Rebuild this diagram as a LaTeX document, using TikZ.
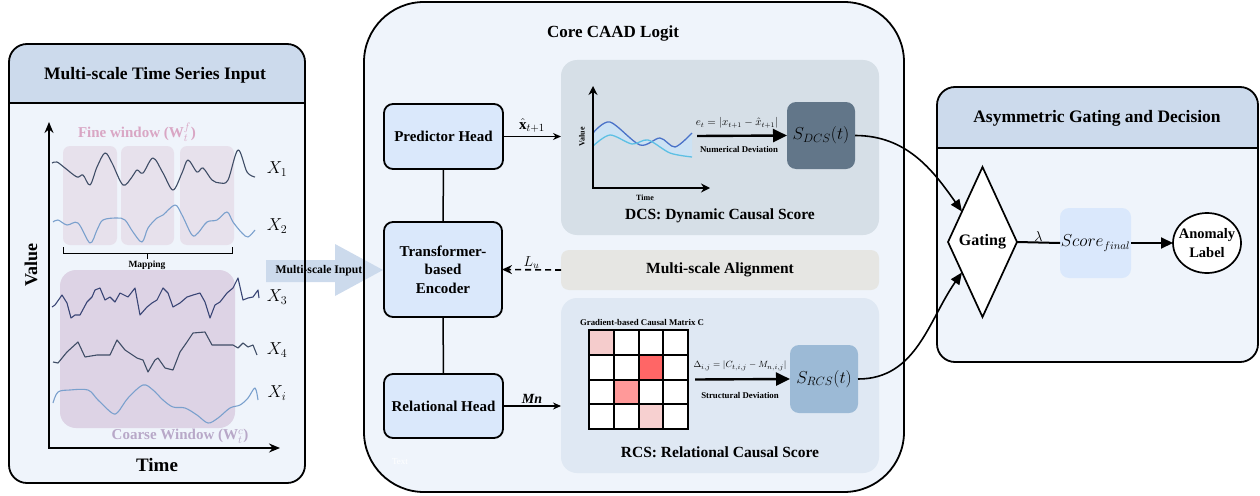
\documentclass[tikz,border=0pt]{standalone}
\usepackage{fontspec}
\setmainfont{Liberation Serif}
\usepackage{amsmath}
\usetikzlibrary{shapes.geometric,arrows.meta,calc}
\definecolor{hdrblue}{HTML}{CCDAEC}
\definecolor{panelbg}{HTML}{EFF4FB}
\definecolor{boxblue}{HTML}{DAE8FB}
\definecolor{dcsbg}{HTML}{D6DFE7}
\definecolor{rcsbg}{HTML}{DFE8F3}
\definecolor{alignbg}{HTML}{E6E6E3}
\definecolor{sdcscol}{HTML}{627689}
\definecolor{srcscol}{HTML}{9CBAD6}
\definecolor{scorecol}{HTML}{DAE8FC}
\definecolor{finecol}{HTML}{E7E1EC}
\definecolor{coarsecol}{HTML}{DDD3E5}
\definecolor{finetxt}{HTML}{D9A6C4}
\definecolor{coarsetxt}{HTML}{B8A8C8}
\definecolor{serdark}{HTML}{3F4D66}
\definecolor{serlight}{HTML}{7AA0CD}
\definecolor{curvedark}{HTML}{4A72C8}
\definecolor{curvelight}{HTML}{5DC0E4}
\definecolor{bandfill}{HTML}{CCE2F4}
\definecolor{cellA}{HTML}{F5CCCC}
\definecolor{cellB}{HTML}{FF6666}
\definecolor{cellC}{HTML}{FF9999}
\definecolor{cellD}{HTML}{F7D0D0}
\newcommand\fsz[2]{\fontsize{#1}{#2}\selectfont}
\begin{document}
\begin{tikzpicture}[x=1pt,y=-1pt,
  every node/.style={inner sep=0pt, outer sep=0pt},
  headbox/.style={draw, line width=1.8pt, fill=boxblue, rounded corners=9pt, align=center, font=\fsz{15}{18.5}\bfseries},
  subpanel/.style={rounded corners=16pt, minimum width=318pt},
  sbox/.style={rounded corners=9pt, font=\fsz{16.5}{19}},
  thinarrow/.style={line width=1.1pt, -{Stealth[length=8pt,width=7pt]}},
  bigarrow/.style={line width=2.4pt, -{Triangle[length=14pt,width=13pt]}},
  curvearrow/.style={line width=1.6pt, -{Triangle[length=12pt,width=10pt]}},
  series/.style={line width=1.1pt, line join=round},
  bordr/.style={line width=1.8pt},
  axisarrow/.style={line width=1.6pt, -{Stealth[length=11pt,width=9pt]}},
  miniaxis/.style={line width=1.8pt, -{Stealth[length=9pt,width=9pt]}},
  small/.style={font=\fsz{8.8}{10}\bfseries}
]
\useasboundingbox (0,0) rectangle (1260,495);

% ---------- panel fills ----------
\fill[panelbg, rounded corners=18pt] (9,44) rectangle (305,483);
\begin{scope}
\clip[rounded corners=18pt] (9,44) rectangle (305,483);
\fill[hdrblue] (9,44) rectangle (305,103);
\end{scope}
\fill[panelbg, rounded corners=60pt] (364,2) rectangle (904,492);
\fill[panelbg, rounded corners=18pt] (937,87) rectangle (1258,362);
\begin{scope}
\clip[rounded corners=18pt] (937,87) rectangle (1258,362);
\fill[hdrblue] (937,87) rectangle (1258,148);
\end{scope}

% ---------- block arrow ----------
\fill[hdrblue] (266,260) -- (335,260) -- (335,244) -- (383,270) -- (335,296) -- (335,282) -- (266,282) -- cycle;
\node[font=\fsz{11.7}{14}\bfseries] (msin) at (319,271) {Multi-scale Input};

% ---------- left panel content ----------
\fill[finecol, rounded corners=7pt] (63,146) rectangle (117,245);
\fill[finecol, rounded corners=7pt] (121,146) rectangle (174,245);
\fill[finecol, rounded corners=7pt] (180,146) rectangle (234,245);
\fill[coarsecol, rounded corners=16pt] (60,270) rectangle (235,428);

\draw[series, serdark] plot[smooth, tension=0.55] coordinates {(52,163) (57,162) (65,168) (77,177) (83,175) (90,185) (97,167) (105,153) (112,163) (123,185) (132,177) (137,170) (143,173) (153,158) (163,173) (173,190) (182,173) (188,160) (197,172) (203,168) (212,180) (220,183) (228,180) (238,150) (247,172) (255,177)};
\draw[series, serlight] plot[smooth, tension=0.55] coordinates {(53,222) (58,220) (67,225) (78,223) (90,243) (97,230) (103,220) (117,218) (125,220) (133,232) (142,242) (148,228) (157,218) (163,215) (175,205) (182,215) (192,235) (198,233) (207,222) (217,220) (227,212) (233,222) (242,233) (248,237) (255,230)};
\draw[series, serdark!90!blue] plot coordinates {(52,307) (55,305) (62,295) (67,303) (71,318) (75,315) (80,315) (87,302) (92,297) (95,290) (100,288) (105,300) (110,297) (115,302) (120,293) (128,297) (135,288) (140,315) (147,307) (152,303) (157,300) (163,288) (168,293) (173,307) (180,303) (187,297) (193,295) (200,293) (205,302) (210,318) (215,305) (220,302) (227,293) (233,288) (238,278) (243,300) (248,298) (253,297) (258,290) (259,298)};
\draw[series, serdark] plot coordinates {(53,362) (58,363) (67,352) (78,342) (85,357) (97,355) (110,355) (117,340) (125,350) (137,358) (143,360) (148,372) (155,360) (158,358) (165,368) (173,370) (180,352) (187,342) (193,333) (205,332) (212,345) (227,345) (233,345) (238,348) (243,343) (248,347) (253,345) (257,355)};
\draw[series, serlight] plot[smooth, tension=0.55] coordinates {(53,403) (58,392) (70,390) (88,390) (98,400) (112,413) (118,412) (128,398) (143,385) (153,390) (163,400) (173,407) (185,408) (197,415) (208,423) (218,418) (230,408) (240,405) (248,398) (255,388) (258,400)};

\coordinate (origin) at (49,448);
\coordinate (ytop) at (49,122);
\coordinate (xend) at (280,448);
\draw[axisarrow] (origin) -- (ytop);
\draw[axisarrow] ([xshift=-1pt]origin) -- (xend);

\draw[line width=1pt] (63,247) -- (63,253) -- (232,253) -- (232,247);
\draw[line width=1pt] (147,253) -- (147,259);
\node[font=\fsz{9.5}{11}\bfseries] (maplbl) at (147,265) {Mapping};

\node[text=finetxt, font=\fsz{15}{17}\bfseries] (finelbl) at (137,132) {Fine window ($\mathbf{W}_t^f$)};
\node[text=coarsetxt, font=\fsz{15}{17}\bfseries] (coarselbl) at (180,436) {Coarse Window ($\mathbf{W}_t^c$)};
\node[font=\fsz{17}{19}] (x1) at (277,169) {$X_1$};
\node[font=\fsz{17}{19}] (x2) at (277,226) {$X_2$};
\node[font=\fsz{17}{19}] (x3) at (277,297) {$X_3$};
\node[font=\fsz{17}{19}] (x4) at (277,350) {$X_4$};
\node[font=\fsz{17}{19}] (xi) at (277,393) {$X_i$};
\node[rotate=90, font=\fsz{18}{20}\bfseries] (vallbl) at (31,265) {Value};
\node[font=\fsz{19}{21}\bfseries] (timelbl) at (157,465) {Time};
\node[font=\fsz{17.5}{20}\bfseries] (lefttitle) at (155,75) {Multi-scale Time Series Input};

% ---------- core panel ----------
\node[font=\fsz{17}{20}\bfseries] (coretitle) at (613,33) {Core CAAD Logit};

\node[headbox, minimum width=119pt, minimum height=65pt] (pred) at (443.5,136.5) {Predictor Head};
\node[headbox, minimum width=118pt, minimum height=95pt] (enc) at (443,269.5) {Transformer-\\based\\Encoder};
\node[headbox, minimum width=119pt, minimum height=64pt] (rel) at (443.5,406) {Relational Head};
\draw[line width=1.5pt] (pred.south) -- (enc.north);
\draw[line width=1.5pt] (enc.south) -- (rel.north);

\node[subpanel, fill=dcsbg, minimum height=175pt] (dcs) at (720,147.5) {};
\node[subpanel, rounded corners=8pt, fill=alignbg, minimum height=40pt, font=\fsz{15.5}{18}\bfseries] (align) at (720,270) {Multi-scale Alignment};
\node[subpanel, fill=rcsbg, minimum height=175pt] (rcs) at (720,385.5) {};

% DCS content
\coordinate (morigin) at (593,188);
\coordinate (mytop) at (593,86);
\coordinate (mxend) at (710,188);
\fill[bandfill] plot[smooth] coordinates {(593,133) (610,122) (640,145) (660,138) (675,147) (692,133)} -- plot[smooth] coordinates {(692,157) (670,153) (648,140) (632,144) (610,135) (593,146)} -- cycle;
\draw[curvedark, line width=1.3pt] plot[smooth] coordinates {(593,133) (610,122) (640,145) (660,138) (675,147) (692,133)};
\draw[curvelight, line width=1.3pt] plot[smooth] coordinates {(593,146) (610,135) (632,144) (648,140) (670,153) (692,157)};
\draw[miniaxis] (morigin) -- (mytop);
\draw[miniaxis] ([xshift=-0.9pt]morigin) -- (mxend);
\node[rotate=90, font=\fsz{8}{9}\bfseries] (mval) at (582,137) {Value};
\node[font=\fsz{8}{9}\bfseries] (mtime) at (645,198) {Time};

\node[sbox, fill=sdcscol, minimum width=68pt, minimum height=67pt] (sdcs) at (821,135.5) {$S_{DCS}(t)$};
\coordinate (dcsout) at (697,136);
\draw[bigarrow] (dcsout) -- (sdcs.west);
\node[font=\fsz{10.5}{12}] (etlbl) at (737,123) {$e_t = |x_{t+1} - \hat{x}_{t+1}|$};
\node[small] (numdev) at (739,149) {Numerical Deviation};
\node[font=\fsz{15.5}{18}\bfseries] (dcstitle) at (720,216) {DCS: Dynamic Causal Score};

% RCS content
\node[small] (gradlbl) at (642,322) {Gradient-based Causal Matrix C};
\node[minimum width=99pt, minimum height=99pt, fill=white] (mat) at (638.5,379.5) {};
\begin{scope}[shift={(589,330)}]
\fill[cellA] (0,0) rectangle (24.75,24.75);
\fill[cellB] (49.5,24.75) rectangle (74.25,49.5);
\fill[cellC] (24.75,49.5) rectangle (49.5,74.25);
\fill[cellD] (49.5,74.25) rectangle (74.25,99);
\foreach \i in {0,1,2,3,4}{
  \draw[line width=2pt] (\i*24.75,-1) -- (\i*24.75,100);
  \draw[line width=2pt] (-1,\i*24.75) -- (100,\i*24.75);
}
\end{scope}
\node[sbox, fill=srcscol, minimum width=68pt, minimum height=68pt] (srcs) at (824,379) {$S_{RCS}(t)$};
\draw[bigarrow] ([xshift=7pt]mat.east) -- (srcs.west);
\node[font=\fsz{9.5}{11}] (dlbl) at (740,366) {$\Delta_{i,j} = |C_{t,i,j} - M_{n,i,j}|$};
\node[small] (strdev) at (740,395) {Structural Deviation};
\node[font=\fsz{15.5}{18}\bfseries] (rcstitle) at (720,452) {RCS: Relational Causal Score};
\node[text=white, font=\fsz{9}{10}] (ghost) at (400,462) {Text};

% connectors in core
\draw[thinarrow] (pred.east) -- (pred.east -| dcs.west) node[midway, above=4pt, font=\fsz{15}{17}] (xhat) {$\hat{\mathbf{x}}_{t+1}$};
\draw[thinarrow] (rel.east) -- (rel.east -| rcs.west) node[midway, above=3pt, font=\fsz{14}{16}\bfseries\itshape] (mnlbl) {Mn};
\draw[line width=1.6pt, dash pattern=on 6pt off 4pt, -{Stealth[length=10pt,width=9pt]}] (align.west) -- (enc.east) node[midway, above=1pt, font=\fsz{14}{16}] (lulbl) {$L_u$};

% ---------- right panel ----------
\node[font=\fsz{17.5}{20}\bfseries] (righttitle) at (1097,118) {Asymmetric Gating and Decision};
\node[draw, diamond, aspect=0.46, minimum width=69pt, minimum height=150pt, line width=1.7pt, fill=white, font=\fsz{16}{18}\bfseries] (gate) at (982.5,242) {Gating};
\node[fill=scorecol, rounded corners=9pt, minimum width=71pt, minimum height=70pt, font=\fsz{16}{19}] (score) at (1095.5,243) {$Score_{final}$};
\node[draw, ellipse, line width=1.7pt, fill=white, minimum width=68pt, minimum height=60pt, inner sep=-6pt, align=center, font=\fsz{14.5}{19}\bfseries] (anom) at (1207,243) {Anomaly\\Label};
\draw[line width=2pt] (gate.east) -- (score.west) node[midway, above=1pt, font=\fsz{15}{17}] (lam) {$\lambda$};
\draw[line width=2pt, -{Triangle[length=12pt,width=11pt]}] (score.east) -- (anom.west);

\draw[curvearrow] (sdcs.east) to[out=0, in=125] (gate.124);
\draw[curvearrow] (srcs.east) to[out=0, in=235] (gate.236);

% ---------- borders ----------
\draw[bordr, rounded corners=18pt] (9,44) rectangle (305,483);
\draw[bordr] (9,103) -- (305,103);
\draw[bordr, rounded corners=60pt] (364,2) rectangle (904,492);
\draw[bordr, rounded corners=18pt] (937,87) rectangle (1258,362);
\draw[bordr] (937,148) -- (1258,148);
\end{tikzpicture}
\end{document}
